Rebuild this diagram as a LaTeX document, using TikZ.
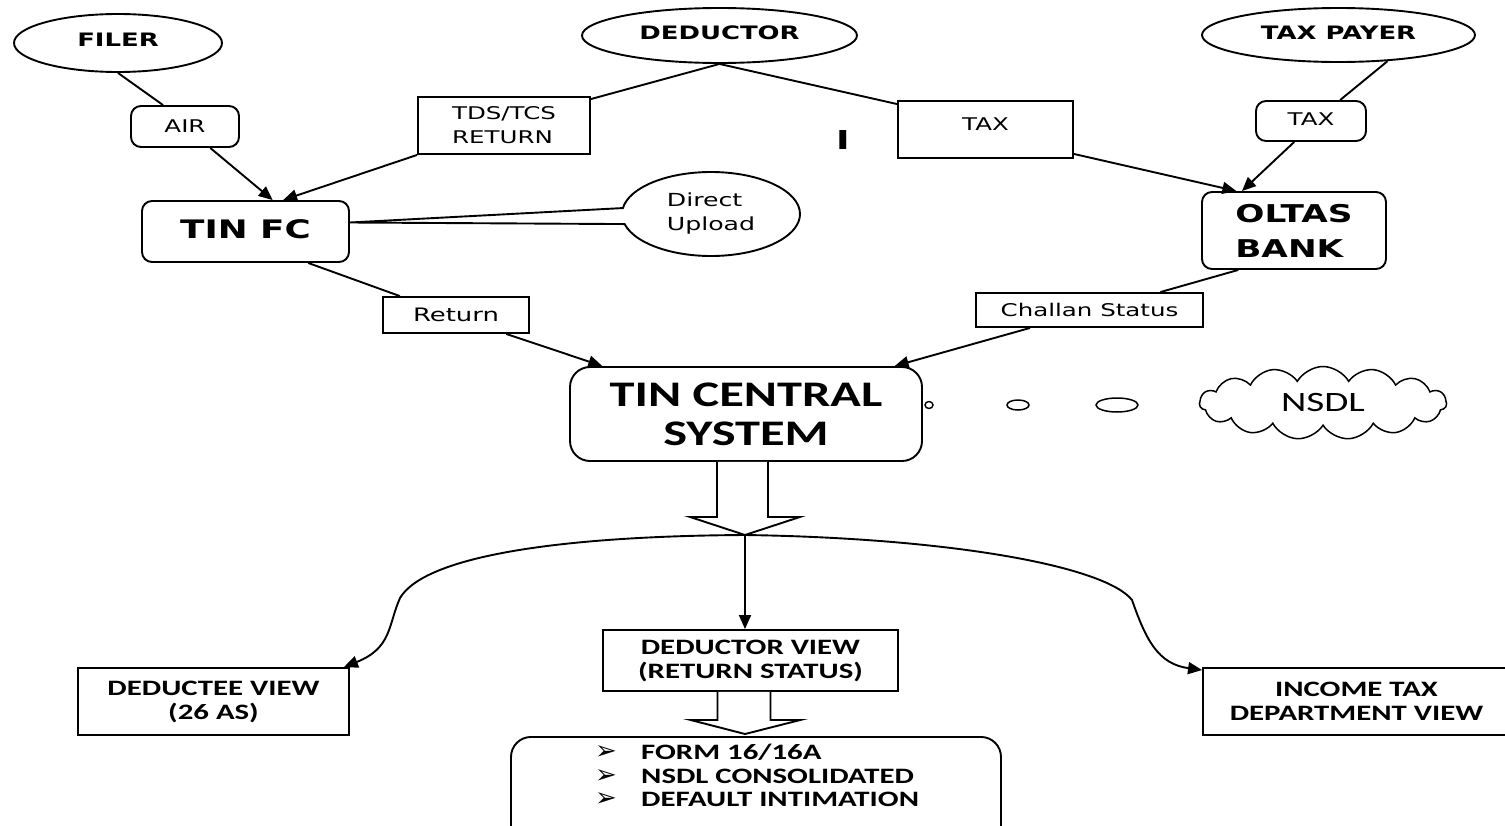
\documentclass[tikz,border=0pt]{standalone}
\usepackage{fontspec}
\usetikzlibrary{shapes.geometric,shapes.symbols,shapes.callouts,arrows.meta,calc}
\newfontfamily\vf[FakeStretch=1.4]{DejaVu Sans}
\newfontfamily\cf[FakeStretch=1.4]{Carlito}
\newfontfamily\djsym{DejaVu Sans}
\tikzset{
  ln/.style={line width=1.9pt},
  arr/.style={ln, -{Triangle[length=14pt,width=12pt]}},
  ell/.style={ellipse, draw, ln, inner sep=0pt},
  rbox/.style={rectangle, rounded corners=10pt, draw, ln, inner sep=0pt},
  sbox/.style={rectangle, draw, ln, inner sep=0pt},
  bigbold/.style={font=\vf\bfseries\fontsize{18.5}{22}\selectfont},
  small/.style={font=\vf\fontsize{17.5}{24}\selectfont},
  calb/.style={font=\cf\bfseries\fontsize{22}{24}\selectfont},
}
\begin{document}
\begin{tikzpicture}[x=1pt,y=-1pt]
\useasboundingbox (0,0) rectangle (1505,825);
\clip (0,0) rectangle (1505,825);

% top row
\node[ell, bigbold, minimum width=208, minimum height=58] (filer) at (118,43) {\raisebox{6pt}{FILER}};
\node[ell, bigbold, minimum width=275, minimum height=55] (deductor) at (719.5,35.5) {\raisebox{5pt}{DEDUCTOR}};
\node[ell, bigbold, minimum width=273, minimum height=54] (taxpayer) at (1338.5,35) {\raisebox{5pt}{TAX PAYER}};

% labels
\node[rbox, small, minimum width=108, minimum height=41] (air) at (185,126.5) {AIR\hspace{14pt}};
\node[sbox, small, minimum width=172, minimum height=57, align=left] (tds) at (504,125.5) {TDS/TCS\\RETURN\hspace{6pt}};
\node[sbox, small, minimum width=175, minimum height=57] (taxmid) at (985.5,129.5) {\raisebox{10pt}{TAX}};
\node[rbox, small, minimum width=110, minimum height=40] (taxsmall) at (1311,121) {\raisebox{3pt}{TAX}\hspace{10pt}};
\node[font=\vf\bfseries\fontsize{26}{28}\selectfont] (cursor) at (843,140) {I};

% TIN FC and OLTAS
\node[rbox, font=\vf\bfseries\fontsize{25.5}{30}\selectfont, minimum width=207, minimum height=61] (tinfc) at (245.5,231.5) {\raisebox{5pt}{TIN FC}\hspace{10pt}};
\node[rbox, font=\vf\bfseries\fontsize{24.5}{35}\selectfont, minimum width=184, minimum height=77, align=left] (oltas) at (1294,230.5) {OLTAS\\BANK\hspace{8pt}};

\coordinate (duptr) at ($(tinfc.east)+(0,-9)$);
\node[ellipse callout, draw, ln, minimum width=178, minimum height=84, inner sep=0pt,
      callout absolute pointer={(duptr)}, callout pointer arc=22,
      font=\vf\fontsize{18}{24}\selectfont, align=left] (du) at (711,214) {Direct\\Upload};

\node[sbox, font=\vf\fontsize{18.5}{22}\selectfont, minimum width=146, minimum height=36] (ret) at (456,315) {Return};
\node[sbox, font=\vf\fontsize{17.5}{22}\selectfont, minimum width=227, minimum height=34] (challan) at (1089.5,310) {Challan Status};

% central
\node[rectangle, rounded corners=20pt, draw, ln, inner sep=0pt, minimum width=352, minimum height=94,
      font=\cf\bfseries\fontsize{36}{39}\selectfont, align=center] (tcs) at (746,414) {TIN CENTRAL\\SYSTEM};

\node[ell, line width=1.4pt, minimum width=8, minimum height=7] (b1) at (929,405) {};
\node[ell, line width=1.5pt, minimum width=22, minimum height=10] (b2) at (1018,405) {};
\node[ell, line width=1.5pt, minimum width=42, minimum height=14] (b3) at (1117,405) {};
\node[cloud, draw, line width=1.5pt, cloud puffs=15, cloud puff arc=120, aspect=3.4,
      minimum width=247, minimum height=73, inner sep=0pt,
      font=\cf\fontsize{28}{30}\selectfont] (nsdl) at (1323,403) {NSDL\hspace{30pt}};

% bottom boxes
\node[sbox, calb, minimum width=271, minimum height=67, align=center] (deductee) at (213.5,701.5) {DEDUCTEE VIEW\\(26 AS)};
\node[sbox, calb, minimum width=295, minimum height=61, align=center] (dview) at (750.5,660.5) {DEDUCTOR VIEW\\(RETURN STATUS)};
\node[sbox, calb, minimum width=307, minimum height=67, align=center] (itd) at (1356.5,701.5) {INCOME TAX\\DEPARTMENT VIEW};
\node[rectangle, rounded corners=20pt, draw, ln, minimum width=490, minimum height=110, anchor=north] (forms) at (756,736) {};
\node[anchor=north west, inner sep=0pt, align=left, font=\cf\bfseries\fontsize{22}{23.5}\selectfont] (flist) at (595,744)
  {\makebox[46pt][l]{\djsym\fontsize{26}{20}\selectfont ➢}FORM 16/16A\\
   \makebox[46pt][l]{\djsym\fontsize{26}{20}\selectfont ➢}NSDL CONSOLIDATED\\
   \makebox[46pt][l]{\djsym\fontsize{26}{20}\selectfont ➢}DEFAULT INTIMATION};

% connectors top
\draw[ln] (filer.south) -- ($(air.north west)!0.3!(air.north east)$);
\draw[arr] ($(air.south west)!0.73!(air.south east)$) -- ($(tinfc.north west)!0.63!(tinfc.north east)$);
\draw[ln] (deductor.south) -- ($(tds.north east)+(0,3)$);
\draw[arr] (tds.south west) -- ($(tinfc.north west)!0.68!(tinfc.north east)$);
\draw[ln] (deductor.south) -- ($(taxmid.north west)+(0,4)$);
\draw[arr] ($(taxmid.south east)+(0,-5)$) -- ($(oltas.north west)!0.19!(oltas.north east)$);
\draw[ln] (taxpayer.-28) -- ($(taxsmall.north west)!0.76!(taxsmall.north east)$);
\draw[arr] ($(taxsmall.south west)!0.35!(taxsmall.south east)$) -- ($(oltas.north west)!0.22!(oltas.north east)$);
\draw[ln] ($(oltas.south west)!0.2!(oltas.south east)$) -- ($(challan.north west)!0.81!(challan.north east)$);
\draw[arr] ($(challan.south west)!0.24!(challan.south east)$) -- ($(tcs.north west)!0.92!(tcs.north east)$);
\draw[ln] ($(tinfc.south west)!0.8!(tinfc.south east)$) -- ($(ret.north west)!0.12!(ret.north east)$);
\draw[arr] ($(ret.south west)!0.84!(ret.south east)$) -- ($(tcs.north west)!0.094!(tcs.north east)$);

% hollow arrow from central system
\coordinate (split) at (745,535);
\draw[ln, fill=white] ($(tcs.south)+(-29,0)$) -- ++(0,55) -- ++(-27,0) -- (split)
  -- ($(tcs.south)+(54,55)$) -- ++(-32,0) -- ($(tcs.south)+(22,0)$);

% distribution
\draw[arr] (split) -- (dview.north -| split);
\draw[arr] (split) .. controls (560,536) and (425,556) .. (400,598)
  .. controls (388,625) and (392,648) .. ($(deductee.north east)+(-6,0)$);
\draw[arr] (split) .. controls (950,538) and (1105,566) .. (1132,600)
  .. controls (1146,640) and (1158,664) .. ($(itd.north west)+(0,3)$);

% hollow arrow to forms
\coordinate (dtip) at (745,734);
\draw[ln, fill=white] ($(dview.south)+(-33,0)$) -- ++(0,28) -- ++(-27,0) -- (dtip)
  -- ($(dview.south)+(50,28)$) -- ++(-30,0) -- ($(dview.south)+(20,0)$);
\end{tikzpicture}
\end{document}
